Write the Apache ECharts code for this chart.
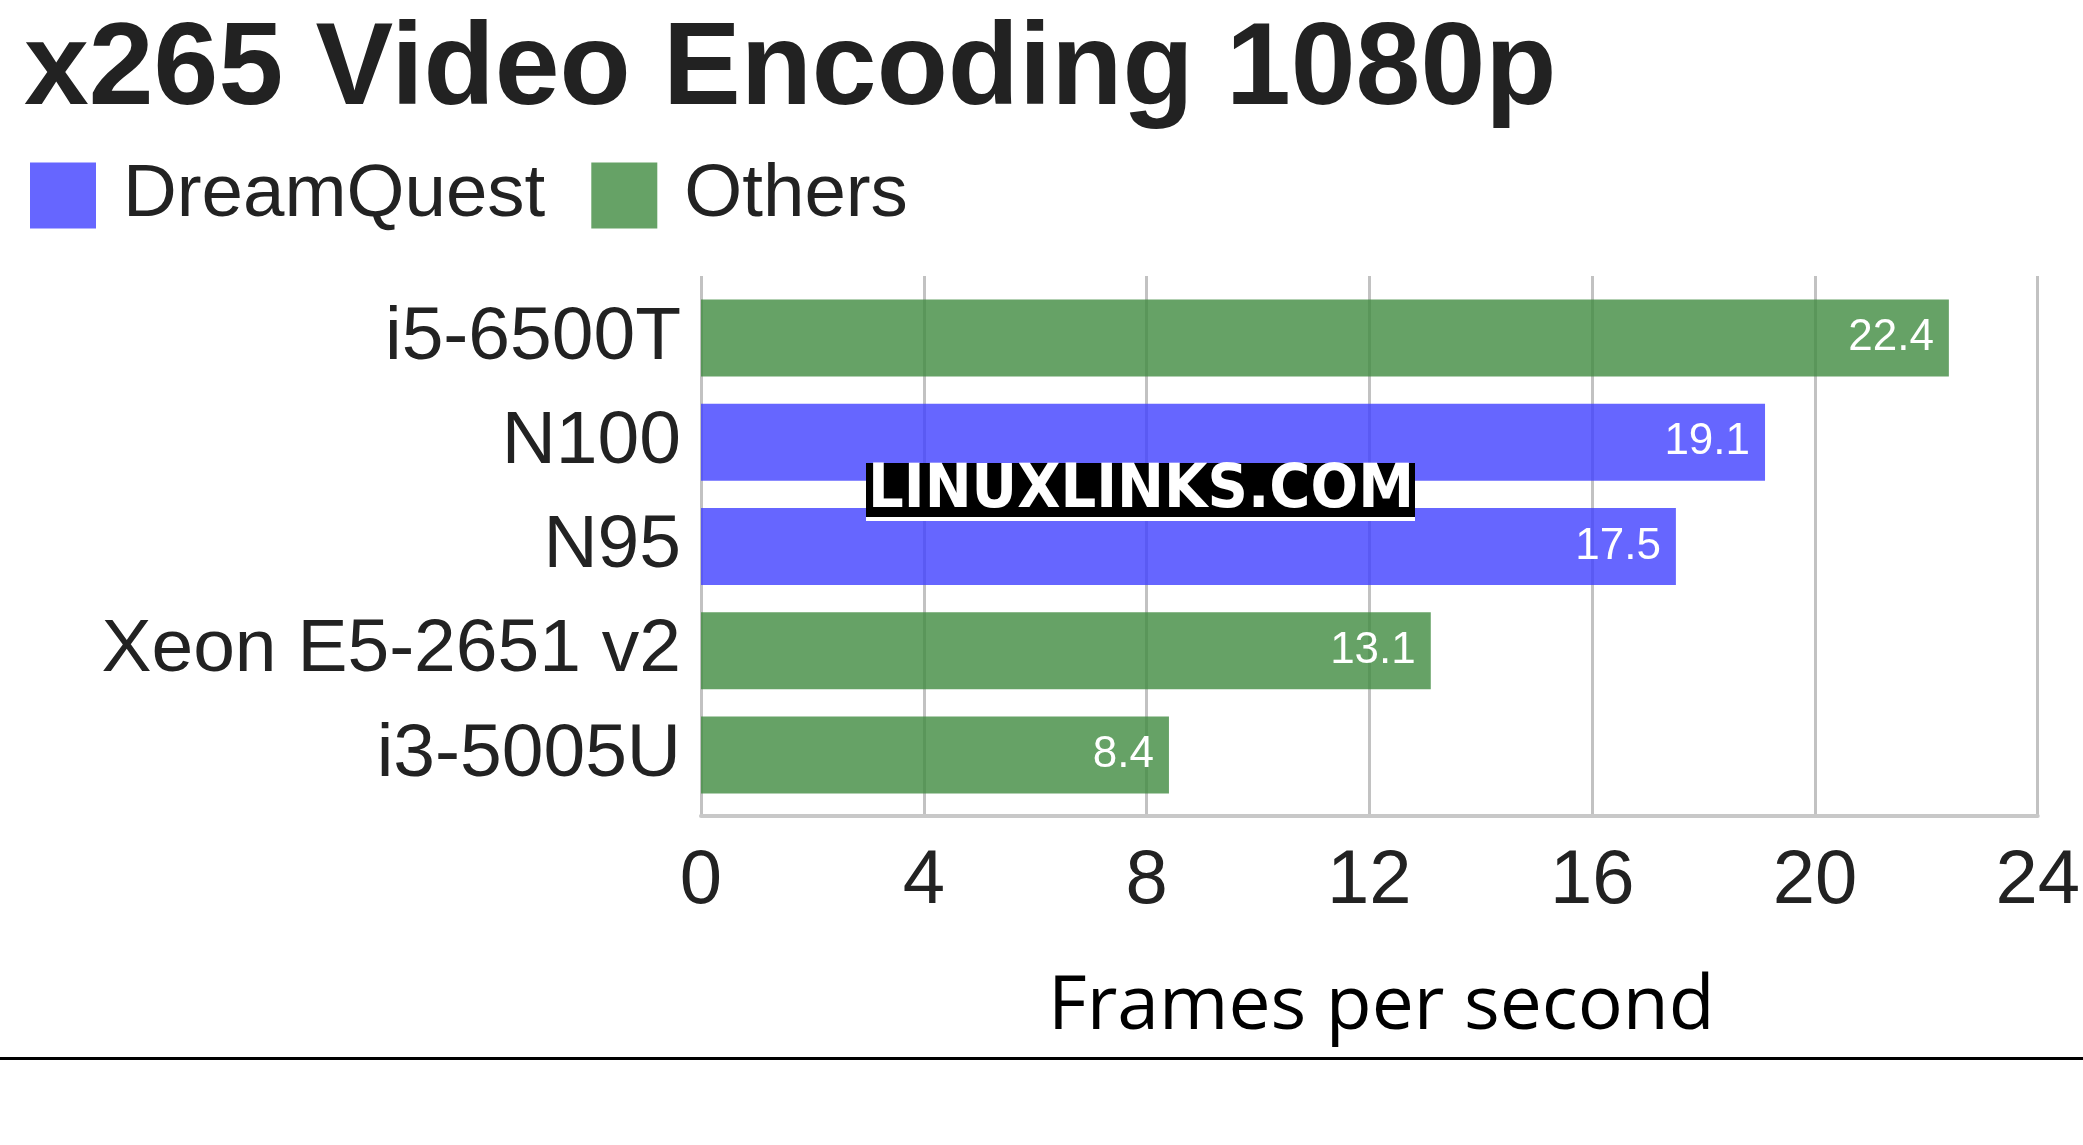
<!DOCTYPE html>
<html>
<head>
<meta charset="utf-8">
<script src="https://cdn.jsdelivr.net/npm/echarts@6/dist/echarts.min.js"></script>
<style>
  html, body { margin: 0; padding: 0; background: #ffffff; }
  #chart { width: 2083px; height: 1145px; }
</style>
</head>
<body>
<div id="chart"></div>
<script>
const titleText = 'x265 Video Encoding 1080p';
const categories = ['i5-6500T', 'N100', 'N95', 'Xeon E5-2651 v2', 'i3-5005U'];
const dreamQuestValues = ['-', 19.1, 17.5, '-', '-'];
const othersValues = [22.4, '-', '-', 13.1, 8.4];
const seriesNames = ['DreamQuest', 'Others'];
const xTickMin = 0;
const xTickMax = 24;
const xTickInterval = 4;
const axisTitle = 'Frames per second';
const watermark = 'LINUXLINKS.COM';

const chart = echarts.init(document.getElementById('chart'));
const sans = 'Liberation Sans, Arial, Helvetica, sans-serif';

chart.setOption({
  backgroundColor: '#ffffff',
  animation: false,
  title: {
    text: titleText,
    left: 24,
    top: 13,
    padding: 0,
    textStyle: { fontFamily: sans, fontSize: 116.5, fontWeight: 'bold', color: '#222222' }
  },
  legend: {
    data: seriesNames,
    left: 30,
    top: 158,
    padding: 0,
    icon: 'rect',
    itemWidth: 66,
    itemHeight: 66,
    itemGap: 46,
    textStyle: { fontFamily: sans, fontSize: 74.5, color: '#222222', padding: [0, 0, 0, 22] }
  },
  grid: [
    { left: 701, right: 45, top: 276, height: 540, containLabel: false },
    { left: 701, right: 45, top: 286, height: 521, containLabel: false }
  ],
  xAxis: [
    {
      gridIndex: 0,
      type: 'value',
      min: xTickMin,
      max: xTickMax,
      interval: xTickInterval,
      z: 0,
      axisLine: { show: true, lineStyle: { color: '#c8c8c8', width: 4 } },
      axisTick: { show: false },
      splitLine: { show: true, lineStyle: { color: '#c2c2c2', width: 3 } },
      axisLabel: { fontFamily: sans, fontSize: 76, color: '#222222', margin: 28 },
      name: axisTitle,
      nameLocation: 'middle',
      nameGap: 154,
      nameTextStyle: { fontFamily: 'Open Sans, Noto Sans, sans-serif', fontSize: 75, color: '#000000', padding: [0, 0, 0, 24] }
    },
    {
      gridIndex: 1,
      type: 'value',
      min: xTickMin,
      max: xTickMax,
      show: false,
      splitLine: { show: false }
    }
  ],
  yAxis: [
    {
      gridIndex: 0,
      type: 'category',
      data: categories,
      show: false
    },
    {
      gridIndex: 1,
      type: 'category',
      data: categories,
      inverse: true,
      axisLine: { show: false },
      axisTick: { show: false },
      splitLine: { show: false },
      axisLabel: { fontFamily: sans, fontSize: 75, color: '#222222', margin: 20, padding: [13, 0, 0, 0] }
    }
  ],
  series: [
    {
      name: seriesNames[0],
      type: 'bar',
      xAxisIndex: 1,
      yAxisIndex: 1,
      stack: 'all',
      data: dreamQuestValues,
      barWidth: 77,
      z: 2,
      itemStyle: { color: 'rgba(64,64,255,0.8)' },
      label: { show: true, position: 'insideRight', distance: 15, color: '#ffffff', fontFamily: sans, fontSize: 44 }
    },
    {
      name: seriesNames[1],
      type: 'bar',
      xAxisIndex: 1,
      yAxisIndex: 1,
      stack: 'all',
      data: othersValues,
      barWidth: 77,
      z: 2,
      itemStyle: { color: 'rgba(64,139,64,0.8)' },
      label: { show: true, position: 'insideRight', distance: 15, color: '#ffffff', fontFamily: sans, fontSize: 44 }
    }
  ],
  graphic: [
    {
      type: 'rect', z: 100,
      shape: { x: 866, y: 463, width: 549, height: 54 },
      style: { fill: '#000000' }
    },
    {
      type: 'rect', z: 100,
      shape: { x: 866, y: 517, width: 549, height: 4 },
      style: { fill: '#ffffff' }
    },
    {
      type: 'text', z: 101,
      x: 1141, y: 491, scaleX: 0.92,
      style: {
        text: watermark, x: 0, y: 0,
        textAlign: 'center', textVerticalAlign: 'middle',
        fill: '#ffffff', fontFamily: 'DejaVu Sans', fontWeight: 'bold', fontSize: 61
      }
    },
    {
      type: 'rect', z: 100,
      shape: { x: 0, y: 1057, width: 2083, height: 3 },
      style: { fill: '#000000' }
    }
  ]
});
</script>
</body>
</html>
